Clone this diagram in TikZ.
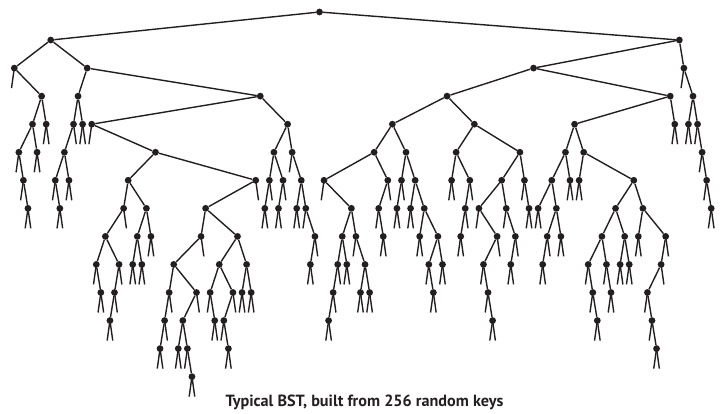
\documentclass[tikz,border=0pt]{standalone}
\usepackage{fontspec}
\newfontfamily\capfont{PT Sans}
\definecolor{ink}{HTML}{231F20}
\begin{document}
\begin{tikzpicture}[x=1pt,y=1pt,
  dot/.style={circle,fill=ink,inner sep=0pt,minimum size=6.8pt},
  link/.style={line width=1.4pt,ink},
  stub/.style={line width=1.4pt,ink}]
\useasboundingbox (0,0) rectangle (723,-414);
% nodes: rank/level
\foreach \r/\l in {0/2,1/5,2/6,3/7,4/4,5/5,6/3,7/4,8/1,9/6,10/7,11/5,12/6,13/4,14/3,15/4,16/2,17/4,18/9,19/10,20/8,21/11,22/10,23/9,24/7,25/6,26/9,27/8,28/9,29/7,30/8,31/5,32/12,33/11,34/10,35/9,36/12,37/11,38/12,39/13,40/10,41/8,42/7,43/10,44/11,45/9,46/11,47/12,48/10,49/8,50/10,51/9,52/10,53/6,54/3,55/7,56/6,57/5,58/7,59/6,60/4,61/5,62/7,63/6,64/7,65/9,66/8,67/0,68/6,69/11,70/10,71/9,72/8,73/9,74/7,75/8,76/10,77/9,78/10,79/5,80/7,81/8,82/6,83/4,84/7,85/6,86/5,87/7,88/6,89/8,90/7,91/9,92/10,93/8,94/9,95/3,96/6,97/5,98/8,99/7,100/6,101/4,102/7,103/9,104/10,105/11,106/8,107/6,108/7,109/9,110/8,111/5,112/6,113/7,114/2,115/7,116/9,117/8,118/6,119/7,120/8,121/5,122/6,123/4,124/6,125/5,126/9,127/10,128/11,129/8,130/9,131/10,132/7,133/9,134/8,135/9,136/6,137/8,138/7,139/10,140/11,141/12,142/9,143/8,144/3,145/4,146/1,147/2,148/4,149/3,150/4,151/5,152/6,153/7}
  \node[dot] (v\r) at ({14.3+4.555*\r},{-(12+28.05*\l)}) {};
% links
\foreach \a/\b in {67/8,67/146,8/0,8/16,146/114,146/147,
 0/6,16/14,16/54,114/95,114/144,147/149,
 6/4,6/7,14/13,14/15,54/17,54/60,95/83,95/101,144/123,144/145,149/148,149/150,
 4/1,4/5,13/11,17/31,60/57,60/61,83/79,83/86,101/97,101/111,123/121,123/125,150/151,
 1/2,11/9,11/12,31/25,31/53,57/56,57/59,61/63,79/68,79/82,86/85,86/88,97/96,97/100,111/107,111/112,121/118,121/122,125/124,125/136,151/152,
 2/3,9/10,25/24,25/29,53/42,56/55,59/58,63/62,63/64,68/74,82/80,85/84,88/87,88/90,100/99,107/102,107/108,112/113,118/115,118/119,136/132,136/138,152/153,
 24/20,29/27,29/30,42/41,42/49,64/66,74/72,74/75,80/81,90/89,90/93,99/98,102/106,108/110,119/117,119/120,132/129,132/134,138/137,138/143,
 20/18,20/23,27/26,27/28,41/35,49/45,49/51,66/65,72/71,72/73,75/77,93/91,93/94,106/103,110/109,117/116,129/126,129/130,134/133,134/135,143/142,
 18/19,23/22,35/34,35/40,45/43,45/48,51/50,51/52,71/70,77/76,77/78,91/92,103/104,126/127,130/131,142/139,
 22/21,34/33,40/37,43/44,48/46,70/69,104/105,127/128,139/140,
 33/32,37/36,37/38,46/47,140/141,
 38/39}
  \draw[link] (v\a) -- (v\b);
% null links
\foreach \r in {0,1,2,9,17,18,38,43,46,61,64,68,75,80,91,102,103,104,108,112,126,127,130,139,140,147,150,151,152,
 3,5,7,10,12,15,19,21,26,28,30,32,36,39,44,47,50,52,55,58,62,65,69,73,76,78,81,84,87,89,92,94,96,98,105,109,113,115,116,120,122,124,128,131,133,135,137,141,145,148,153}
  \draw[stub] (v\r.center) -- ++(-2.8,-20);
\foreach \r in {13,22,23,24,33,34,40,41,48,53,56,59,66,70,71,82,85,99,100,106,110,117,142,143,
 3,5,7,10,12,15,19,21,26,28,30,32,36,39,44,47,50,52,55,58,62,65,69,73,76,78,81,84,87,89,92,94,96,98,105,109,113,115,116,120,122,124,128,131,133,135,137,141,145,148,153}
  \draw[stub] (v\r.center) -- ++(2.8,-20);
\node[anchor=base,inner sep=0pt,font=\capfont\bfseries\fontsize{16.2}{19}\selectfont,text=ink] (cap) at (364.5,-406.7) {Typical BST, built from 256 random keys};
\end{tikzpicture}
\end{document}
